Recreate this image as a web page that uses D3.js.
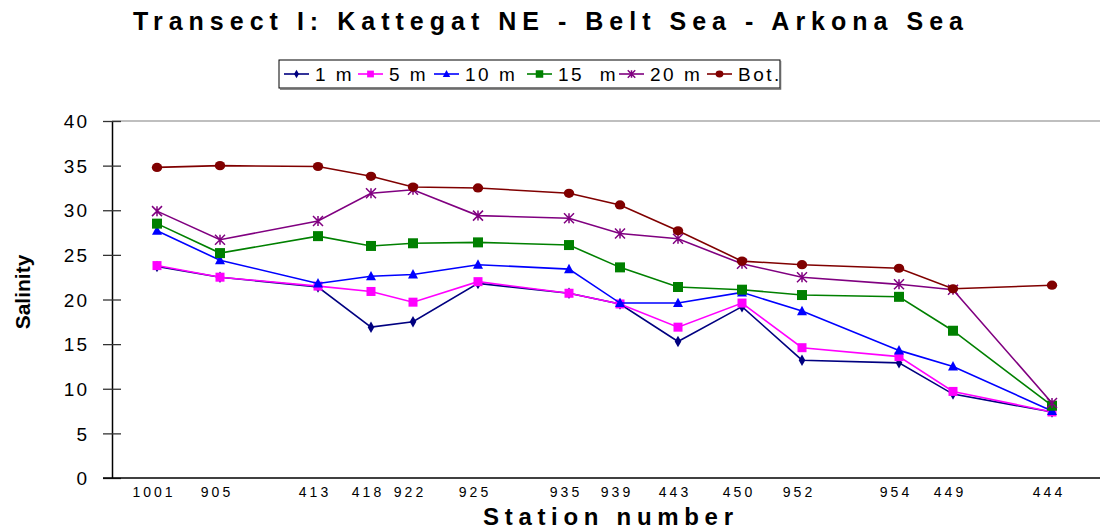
<!DOCTYPE html>
<html>
<head>
<meta charset="utf-8">
<script src="https://cdn.jsdelivr.net/npm/d3@7"></script>
<style>
  html, body { margin: 0; padding: 0; background: #fff; }
  svg { display: block; font-family: "Liberation Sans", Arial, sans-serif; }
</style>
</head>
<body>
<svg id="chart" width="1107" height="530"></svg>
<script>
// ---- data ----
const stations = ["1001","905","413","418","922","925","935","939","443","450","952","954","449","444"];
// relative distance along the transect (arbitrary units)
const distance = [45, 108, 206, 259, 301, 366, 457, 508, 566, 630, 690, 787, 841, 940];
const seriesNames = ["1 m", "5 m", "10 m", "15  m", "20 m", "Bot."];
const s1m  = [23.7, 22.5, 21.4, 16.9, 17.5, 21.8, 20.7, 19.5, 15.3, 19.2, 13.2, 12.9, 9.4, 7.4];
const s5m  = [23.8, 22.5, 21.5, 20.9, 19.7, 22.0, 20.7, 19.5, 16.9, 19.6, 14.6, 13.6, 9.7, 7.4];
const s10m = [27.7, 24.4, 21.8, 22.6, 22.8, 23.9, 23.4, 19.6, 19.6, 20.8, 18.7, 14.3, 12.5, 7.5];
const s15m = [28.5, 25.2, 27.1, 26.0, 26.3, 26.4, 26.1, 23.6, 21.4, 21.1, 20.5, 20.3, 16.5, 8.1];
const s20m = [29.9, 26.7, 28.8, 31.9, 32.3, 29.4, 29.1, 27.4, 26.8, 24.0, 22.5, 21.7, 21.1, 8.4];
const sBot = [34.8, 35.0, 34.9, 33.8, 32.6, 32.5, 31.9, 30.6, 27.7, 24.3, 23.9, 23.5, 21.2, 21.6];
const yTicks = [0, 5, 10, 15, 20, 25, 30, 35, 40];
const titleText = "Transect I: Kattegat NE - Belt Sea - Arkona Sea";
const xTitle = "Station number";
const yTitle = "Salinity";

// ---- styling ----
const colors = ["#000080", "#FF00FF", "#0000FF", "#008000", "#800080", "#800000"];
const markers = ["diamond", "square", "triangle", "bigsquare", "asterisk", "circle"];
const allSeries = [s1m, s5m, s10m, s15m, s20m, sBot];

const svg = d3.select("#chart");
const plotLeft = 112, plotRight = 1100, plotTop = 121, plotBottom = 478;

const x = d3.scaleLinear().domain([0, 988]).range([plotLeft, plotRight]);
const y = d3.scaleLinear().domain([0, 40]).range([plotBottom, plotTop]);

// top gray frame line
svg.append("line").attr("x1", plotLeft).attr("x2", plotRight).attr("y1", plotTop).attr("y2", plotTop)
  .attr("stroke", "#aaaaaa").attr("stroke-width", 1.5);

// y axis
const yAxis = d3.axisLeft(y).tickValues(yTicks).tickSize(0).tickPadding(0).tickFormat(d3.format("d"));
const yg = svg.append("g").attr("transform", `translate(${plotLeft},0)`).call(yAxis);
yg.select(".domain").attr("stroke", "#000").attr("stroke-width", 1.5);
yg.selectAll(".tick text").attr("x", -23).attr("dy", "0.35em")
  .attr("font-size", 19).attr("letter-spacing", 2).attr("fill", "#000")
  .attr("font-family", "Liberation Sans, Arial, sans-serif");
yg.selectAll(".tick").append("line").attr("x1", -9).attr("x2", 9)
  .attr("stroke", "#333").attr("stroke-width", 1.3);

// x axis line
svg.append("line").attr("x1", 103).attr("x2", plotRight).attr("y1", plotBottom).attr("y2", plotBottom)
  .attr("stroke", "#000").attr("stroke-width", 1.5);

// x tick labels (station numbers at their distances)
svg.append("g").selectAll("text").data(stations).join("text")
  .attr("x", (d, i) => x(distance[i]) - 3)
  .attr("y", 497)
  .attr("text-anchor", "middle")
  .attr("font-size", 14).attr("letter-spacing", 3)
  .attr("fill", "#000")
  .text(d => d);

// titles
svg.append("text").attr("x", 133).attr("y", 30)
  .attr("font-size", 25).attr("font-weight", "bold")
  .attr("textLength", 830).attr("lengthAdjust", "spacing")
  .text(titleText);

svg.append("text").attr("x", 483).attr("y", 525)
  .attr("font-size", 24).attr("font-weight", "bold")
  .attr("textLength", 250).attr("lengthAdjust", "spacing")
  .text(xTitle);

svg.append("text").attr("transform", "translate(30,292) rotate(-90)")
  .attr("text-anchor", "middle")
  .attr("font-size", 21).attr("font-weight", "bold")
  .text(yTitle);

// marker drawing
function drawMarker(g, type, color, cx, cy, scale) {
  const s = scale || 1;
  if (type === "diamond") {
    g.append("path").attr("d", d3.symbol().type(d3.symbolDiamond).size(38 * s * s)())
      .attr("transform", `translate(${cx},${cy})`).attr("fill", color);
  } else if (type === "square") {
    const w = 9 * s;
    g.append("rect").attr("x", cx - w / 2).attr("y", cy - w / 2).attr("width", w).attr("height", w).attr("fill", color);
  } else if (type === "bigsquare") {
    const w = 10 * s;
    g.append("rect").attr("x", cx - w / 2).attr("y", cy - w / 2).attr("width", w).attr("height", w).attr("fill", color);
  } else if (type === "triangle") {
    const h = 9 * s, w = 10 * s;
    g.append("path").attr("d", `M${cx},${cy - h * 0.6}L${cx + w / 2},${cy + h * 0.45}L${cx - w / 2},${cy + h * 0.45}Z`).attr("fill", color);
  } else if (type === "asterisk") {
    const r = 5 * s;
    g.append("path").attr("d",
      `M${cx - r},${cy - r}L${cx + r},${cy + r}M${cx - r},${cy + r}L${cx + r},${cy - r}M${cx},${cy - r}L${cx},${cy + r}`)
      .attr("stroke", color).attr("stroke-width", 1.5).attr("fill", "none");
  } else if (type === "circle") {
    g.append("ellipse").attr("cx", cx).attr("cy", cy).attr("rx", 5.2 * s).attr("ry", 4.6 * s).attr("fill", color);
  }
}

// series
const line = d3.line().x(d => x(d[0])).y(d => y(d[1]));
allSeries.forEach((vals, si) => {
  const g = svg.append("g");
  const pts = vals.map((v, i) => [distance[i], v]);
  g.append("path").attr("d", line(pts)).attr("fill", "none")
    .attr("stroke", colors[si]).attr("stroke-width", 1.6);
  pts.forEach(p => drawMarker(g, markers[si], colors[si], x(p[0]), y(p[1]), 1));
});

// legend
const lg = svg.append("g");
lg.append("rect").attr("x", 279).attr("y", 60).attr("width", 501).attr("height", 28)
  .attr("fill", "#fff").attr("stroke", "#000").attr("stroke-width", 1);
lg.append("path").attr("d", "M780.5,61 L780.5,89 L280,89").attr("stroke", "#666").attr("stroke-width", 1.5).attr("fill", "none");
const legendLineX = [284, 358, 434, 527, 619, 707];
seriesNames.forEach((name, i) => {
  const lx = legendLineX[i];
  lg.append("line").attr("x1", lx).attr("x2", lx + 25).attr("y1", 74).attr("y2", 74)
    .attr("stroke", colors[i]).attr("stroke-width", 1.6);
  drawMarker(lg, markers[i], colors[i], lx + 12.5, 74, 0.75);
  lg.append("text").attr("x", lx + 31).attr("y", 81)
    .attr("font-size", 19).attr("letter-spacing", 2.5)
    .style("white-space", "pre")
    .text(name);
});
</script>
</body>
</html>
